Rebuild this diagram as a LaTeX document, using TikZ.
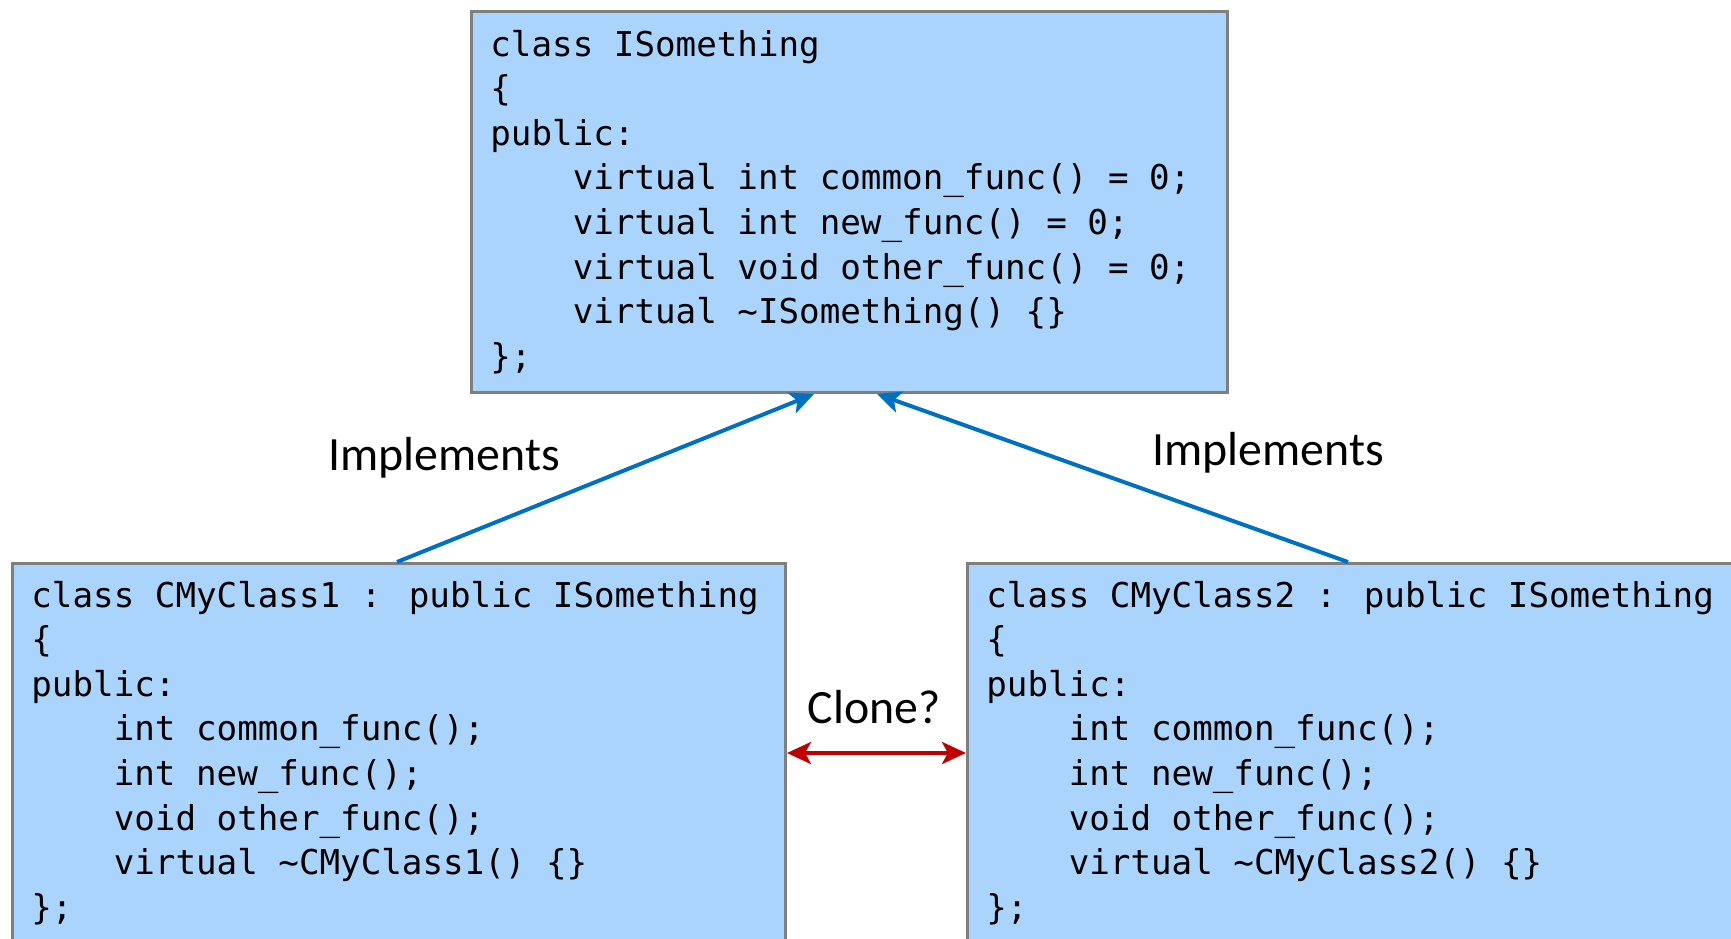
\documentclass[tikz,border=0pt]{standalone}
\usepackage{fontspec}
\setmainfont{Carlito}
\newfontfamily\codefont{DejaVu Sans Mono}
\usetikzlibrary{arrows.meta,calc}
\definecolor{boxfill}{RGB}{171,212,252}
\definecolor{boxline}{RGB}{127,127,127}
\definecolor{implblue}{RGB}{0,112,192}
\definecolor{clonered}{RGB}{192,0,0}
\newcommand{\ind}{\phantom{xxxx}}
\tikzset{
  classbox/.style={draw=boxline, fill=boxfill, line width=1.5pt, rectangle, anchor=north west, inner sep=0pt},
  code/.style={anchor=base west, inner sep=0pt, font=\codefont\fontsize{17.1pt}{22.3pt}\selectfont},
  lbl/.style={font=\fontsize{23.9pt}{28pt}\selectfont, inner sep=0pt},
  impl/.style={draw=implblue, line width=2pt, -{Stealth[length=12pt,width=11pt,inset=3pt]}},
  clone/.style={draw=clonered, line width=2pt, {Stealth[length=12pt,width=11pt,inset=3pt]}-{Stealth[length=12pt,width=11pt,inset=3pt]}}
}
\begin{document}
\begin{tikzpicture}[x=0.5pt,y=-0.5pt]
\useasboundingbox (0,0) rectangle (1731,938);
\clip (0,0) rectangle (1731,938);
\fill[white] (0,0) rectangle (1731,938);

% boxes
\node[classbox, minimum width=378pt, minimum height=190.5pt] (top) at (470,10) {};
\node[classbox, minimum width=386.5pt, minimum height=230pt] (lbox) at (11,562) {};
\node[classbox, minimum width=420pt, minimum height=230pt] (rbox) at (966,562) {};

% code
\node[code] (topcode) at (490,56) {\fontsize{17.1pt}{22.3pt}\selectfont\begin{tabular}[t]{@{}l@{}}
class ISomething\\
\{\\
public:\\
\ind virtual int common\_func() = 0;\\
\ind virtual int new\_func() = 0;\\
\ind virtual void other\_func() = 0;\\
\ind virtual \textasciitilde ISomething() \{\}\\
\};
\end{tabular}};

\node[code] (lcode) at (31,607) {\fontsize{17.1pt}{22.3pt}\selectfont\begin{tabular}[t]{@{}l@{}}
class CMyClass1 : public ISomething\\
\{\\
public:\\
\ind int common\_func();\\
\ind int new\_func();\\
\ind void other\_func();\\
\ind virtual \textasciitilde CMyClass1() \{\}\\
\};
\end{tabular}};

\node[code] (rcode) at (986,607) {\fontsize{17.1pt}{22.3pt}\selectfont\begin{tabular}[t]{@{}l@{}}
class CMyClass2 : public ISomething\\
\{\\
public:\\
\ind int common\_func();\\
\ind int new\_func();\\
\ind void other\_func();\\
\ind virtual \textasciitilde CMyClass2() \{\}\\
\};
\end{tabular}};

% connector end points on box edges
\coordinate (lstart) at ([xshift=193pt]lbox.north west);
\coordinate (ltip) at ([xshift=172pt]top.south west);
\coordinate (rstart) at ([xshift=191pt]rbox.north west);
\coordinate (rtip) at ([xshift=203.5pt]top.south west);
\coordinate (cl) at ([yshift=-95.5pt]lbox.north east);
\coordinate (cr) at ([yshift=-95.5pt]rbox.north west);

\draw[impl] (lstart) -- (ltip);
\draw[impl] (rstart) -- (rtip);
\draw[clone] (cl) -- (cr);

% labels
\node[lbl] (limpl) at (444,458) {Implements};
\node[lbl] (rimpl) at (1268,453) {Implements};
\node[lbl] (clonelbl) at (874,707) {Clone?};
\end{tikzpicture}
\end{document}
